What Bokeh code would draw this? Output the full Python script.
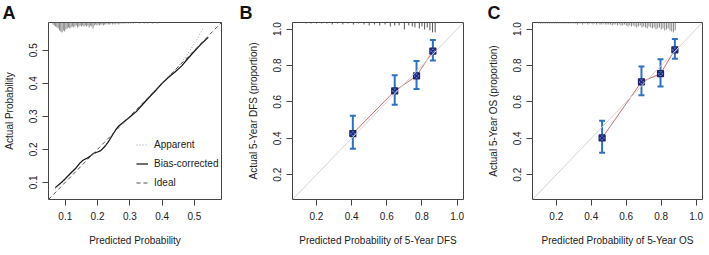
from bokeh.plotting import figure
from bokeh.layouts import row
from bokeh.models import (Range1d, FixedTicker, Legend, LegendItem, Slope, LinearAxis,
                          Whisker, TeeHead, ColumnDataSource, PrintfTickFormatter)
from bokeh.embed import file_html
from bokeh.resources import INLINE

# ---------------- data ----------------
# Panel A: nomogram calibration
a_bias_x = [0.069, 0.085, 0.100, 0.115, 0.131, 0.145, 0.155, 0.167, 0.178, 0.188, 0.200, 0.210,
            0.224, 0.235, 0.245, 0.255, 0.265, 0.280, 0.300, 0.320, 0.350, 0.380, 0.400, 0.420,
            0.440, 0.460, 0.480, 0.500, 0.520, 0.543]
a_bias_y = [0.084, 0.097, 0.111, 0.126, 0.141, 0.158, 0.167, 0.173, 0.180, 0.188, 0.192, 0.196,
            0.210, 0.225, 0.241, 0.257, 0.270, 0.282, 0.298, 0.314, 0.347, 0.378, 0.400, 0.418,
            0.434, 0.452, 0.475, 0.497, 0.518, 0.539]
a_app_x = [0.069, 0.100, 0.130, 0.155, 0.170, 0.190, 0.210, 0.225, 0.245, 0.265, 0.300, 0.350,
           0.400, 0.440, 0.460, 0.480, 0.500, 0.515, 0.528]
a_app_y = [0.080, 0.108, 0.142, 0.168, 0.174, 0.186, 0.197, 0.213, 0.243, 0.270, 0.300, 0.350,
           0.402, 0.440, 0.463, 0.490, 0.520, 0.545, 0.569]
a_rug_x = [0.062, 0.066, 0.070, 0.074, 0.078, 0.082, 0.086, 0.090, 0.094, 0.098, 0.102, 0.106,
           0.110, 0.114, 0.118, 0.122, 0.126, 0.130, 0.134, 0.138, 0.142, 0.146, 0.150, 0.154,
           0.158, 0.162, 0.166, 0.170, 0.174, 0.178, 0.182, 0.186, 0.190, 0.194, 0.198, 0.202,
           0.206, 0.210, 0.214, 0.218, 0.222, 0.226, 0.230, 0.234, 0.238, 0.242, 0.246, 0.250,
           0.254, 0.258, 0.262, 0.266, 0.270, 0.275, 0.280, 0.285, 0.290, 0.296, 0.302, 0.310,
           0.330, 0.345, 0.355, 0.370, 0.385]
a_rug_n = [2, 3, 4, 5, 6, 8, 9, 10, 8, 9, 7, 6,
           5, 6, 5, 4, 5, 4, 3, 5, 4, 3, 4, 3,
           4, 3, 4, 3, 5, 3, 4, 6, 3, 2, 3, 2,
           3, 2, 2, 3, 2, 2, 1, 2, 2, 1, 2, 1,
           2, 1, 1, 2, 1, 1, 1, 1, 1, 1, 1, 1,
           1, 1, 1, 1, 1]
a_ticks = [0.1, 0.2, 0.3, 0.4, 0.5]
a_legend = ["Apparent", "Bias-corrected", "Ideal"]

# Panel B: 5-year DFS
b_pred = [0.407, 0.645, 0.769, 0.862]
b_obs = [0.426, 0.660, 0.743, 0.879]
b_lo = [0.343, 0.584, 0.671, 0.828]
b_hi = [0.524, 0.747, 0.824, 0.940]
b_rug_x = [0.14, 0.17, 0.20, 0.23, 0.26, 0.29, 0.32, 0.35, 0.38, 0.41, 0.44, 0.47, 0.50,
           0.53, 0.56, 0.59, 0.62, 0.645, 0.67, 0.70, 0.725, 0.745, 0.76, 0.785, 0.80,
           0.815, 0.83, 0.845, 0.86, 0.875]
b_rug_n = [1, 1, 1, 1, 1, 2, 1, 2, 1, 2, 1, 2, 3,
           2, 3, 2, 4, 3, 3, 7, 3, 4, 5, 6, 4,
           7, 5, 8, 10, 10]

# Panel C: 5-year OS
c_pred = [0.462, 0.687, 0.796, 0.878]
c_obs = [0.402, 0.710, 0.755, 0.886]
c_lo = [0.321, 0.636, 0.685, 0.837]
c_hi = [0.497, 0.795, 0.834, 0.945]
c_rug_x = [0.10, 0.11, 0.12, 0.13, 0.14, 0.15, 0.16, 0.17, 0.18, 0.19,
           0.20, 0.21, 0.22, 0.23, 0.24, 0.25, 0.26, 0.27, 0.28, 0.29,
           0.30, 0.31, 0.32, 0.33, 0.34, 0.35, 0.36, 0.37, 0.38, 0.39,
           0.40, 0.41, 0.42, 0.43, 0.44, 0.45, 0.46, 0.47, 0.48, 0.49,
           0.50, 0.51, 0.52, 0.53, 0.54, 0.55, 0.56, 0.57, 0.58, 0.59,
           0.60, 0.61, 0.62, 0.63, 0.64, 0.65, 0.66, 0.67, 0.68, 0.69,
           0.70, 0.71, 0.72, 0.73, 0.74, 0.75, 0.76, 0.77, 0.78, 0.79,
           0.80, 0.81, 0.82, 0.83, 0.84, 0.85, 0.86, 0.87, 0.88]
c_rug_n = [1, 1, 1, 1, 1, 1, 1, 1, 1, 1,
           1, 1, 1, 1, 1, 1, 1, 1, 1, 1,
           1, 1, 2, 1, 1, 2, 1, 1, 2, 1,
           1, 2, 1, 2, 1, 2, 2, 1, 2, 2,
           2, 2, 3, 2, 2, 3, 2, 3, 3, 2,
           3, 4, 3, 4, 3, 4, 5, 4, 3, 5,
           4, 5, 6, 4, 5, 6, 5, 7, 6, 5,
           7, 6, 8, 7, 6, 8, 9, 10, 8]
bc_ticks = [0.2, 0.4, 0.6, 0.8, 1.0]

FONT = "Liberation Sans"
TXT = "#222222"


def base_fig(width, left, right, lim, ticks, xlabel, ylabel, letter, xoff):
    p = figure(width=width, height=255, output_backend="svg", toolbar_location=None,
               x_range=Range1d(*lim), y_range=Range1d(*lim), x_axis_type=None,
               y_axis_type=None, min_border_left=left, min_border_right=right,
               min_border_top=0, min_border_bottom=56, title=letter)
    p.title.text_font = FONT
    p.title.text_font_size = "18px"
    p.title.text_font_style = "bold"
    p.title.text_color = "#111111"
    p.title.align = "left"
    p.title.offset = xoff
    p.title.standoff = 0
    for place, lab in (("below", xlabel), ("left", ylabel)):
        ax = LinearAxis(ticker=FixedTicker(ticks=ticks), axis_label=lab,
                        formatter=PrintfTickFormatter(format="%.1f"))
        ax.axis_line_color = None
        ax.major_tick_out = 6
        ax.major_tick_in = 0
        ax.major_tick_line_color = "#444444"
        ax.minor_tick_out = 0
        ax.minor_tick_in = 0
        ax.major_label_text_font = FONT
        ax.major_label_text_font_size = "10px"
        ax.major_label_text_color = TXT
        ax.axis_label_text_font = FONT
        ax.axis_label_text_font_size = "10px"
        ax.axis_label_text_font_style = "normal"
        ax.axis_label_text_color = TXT
        if place == "left":
            ax.major_label_orientation = "vertical"
            ax.major_label_standoff = 5
            ax.axis_label_standoff = 12
        else:
            ax.major_label_standoff = 6
            ax.axis_label_standoff = 12
        p.add_layout(ax, place)
    p.outline_line_color = "#444444"
    p.outline_line_width = 1
    p.background_fill_color = "white"
    p.border_fill_color = "white"
    return p


def add_rug(p, xs, ns, lim, color):
    unit = (lim[1] - lim[0]) / 179.0
    top = [lim[1]] * len(xs)
    bot = [lim[1] - n * unit for n in ns]
    p.segment(x0=xs, y0=top, x1=xs, y1=bot, line_color=color, line_width=1)


# ---------------- panel A ----------------
lim_a = (0.048, 0.584)
pa = base_fig(236, 48, 15, lim_a, a_ticks, "Predicted Probability", "Actual Probability",
              "A", -46)
add_rug(pa, a_rug_x, a_rug_n, lim_a, "#888888")
r_app = pa.line(a_app_x, a_app_y, line_color="#9a9a9a", line_width=1, line_dash="1 2")
r_bias = pa.line(a_bias_x, a_bias_y, line_color="#111111", line_width=1.2)
r_ideal = pa.line([lim_a[0], lim_a[1]], [lim_a[0], lim_a[1]], line_color="#555555",
                  line_width=1, line_dash="4 3")
leg = Legend(items=[LegendItem(label=a_legend[0], renderers=[r_app]),
                    LegendItem(label=a_legend[1], renderers=[r_bias]),
                    LegendItem(label=a_legend[2], renderers=[r_ideal])],
             location=(88, 7), border_line_color=None, background_fill_alpha=0,
             label_text_font=FONT, label_text_font_size="10px", label_text_color=TXT,
             glyph_width=12, glyph_height=19, label_height=19, label_standoff=6,
             spacing=0, padding=0, margin=0)
pa.add_layout(leg)


# ---------------- panels B / C ----------------
def calib_panel(width, left, right, pred, obs, lo, hi, rx, rn, rug_col, xlabel, ylabel,
                letter, xoff, diag_col):
    lim = (0.064, 1.036)
    p = base_fig(width, left, right, lim, bc_ticks, xlabel, ylabel, letter, xoff)
    p.add_layout(Slope(gradient=1, y_intercept=0, line_color=diag_col, line_width=1))
    add_rug(p, rx, rn, lim, rug_col)
    p.line(pred, obs, line_color="#c0504d", line_width=1, line_alpha=0.85)
    src = ColumnDataSource(dict(x=pred, lo=lo, hi=hi))
    col = "#2f72c0"
    p.add_layout(Whisker(source=src, base="x", lower="lo", upper="hi", dimension="height",
                         line_color=col, line_width=2,
                         upper_head=TeeHead(size=6, line_color=col, line_width=2),
                         lower_head=TeeHead(size=6, line_color=col, line_width=2)))
    p.scatter(pred, obs, marker="square_x", size=6, fill_color="#5b7fd0",
              line_color="#1c2470", line_width=1.2)
    return p


pb = calib_panel(236, 56, 9, b_pred, b_obs, b_lo, b_hi, b_rug_x, b_rug_n, "#555555",
                 "Predicted Probability of 5-Year DFS", "Actual 5-Year DFS (proportion)",
                 "B", -53, "#d4d4d4")
pc = calib_panel(237, 60, 7, c_pred, c_obs, c_lo, c_hi, c_rug_x, c_rug_n, "#8a8a8a",
                 "Predicted Probability of 5-Year OS", "Actual 5-Year OS (proportion)",
                 "C", -45, "#dccfcf")

layout = row(pa, pb, pc)
open("out.html", "w").write(file_html(layout, INLINE))
